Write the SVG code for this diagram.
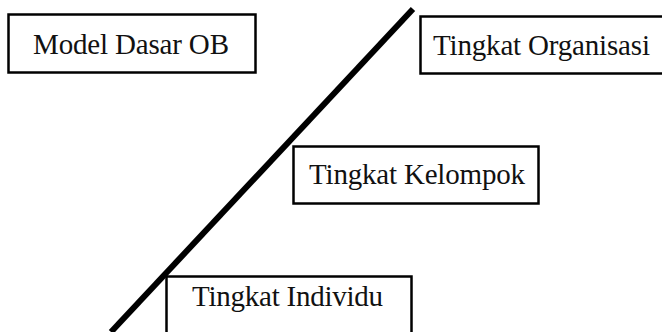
<svg xmlns="http://www.w3.org/2000/svg" width="662" height="332" viewBox="0 0 662 332">
<style>
.box{fill:#fff;stroke:#000;stroke-width:2.5}
.t{font-family:"Liberation Serif","Times New Roman",serif;font-size:29px;fill:#111}
.ln{stroke:#000;stroke-width:6;fill:none}
</style>
<rect width="662" height="332" fill="#fff"/>
<g id="connectors">
<line class="ln" x1="413" y1="9" x2="111" y2="332"/>
</g>
<g id="model">
<rect class="box" x="8.5" y="14.5" width="247" height="58"/>
<text class="t" x="33" y="54" textLength="196">Model Dasar OB</text>
</g>
<g id="organisasi">
<rect class="box" x="420.5" y="16.5" width="250" height="57"/>
<text class="t" x="433" y="55" textLength="217">Tingkat Organisasi</text>
</g>
<g id="kelompok">
<rect class="box" x="293.5" y="146.5" width="245" height="57"/>
<text class="t" x="309" y="184" textLength="216">Tingkat Kelompok</text>
</g>
<g id="individu">
<rect class="box" x="166.5" y="276.5" width="245" height="60"/>
<text class="t" x="192" y="306" textLength="191">Tingkat Individu</text>
</g>
</svg>
